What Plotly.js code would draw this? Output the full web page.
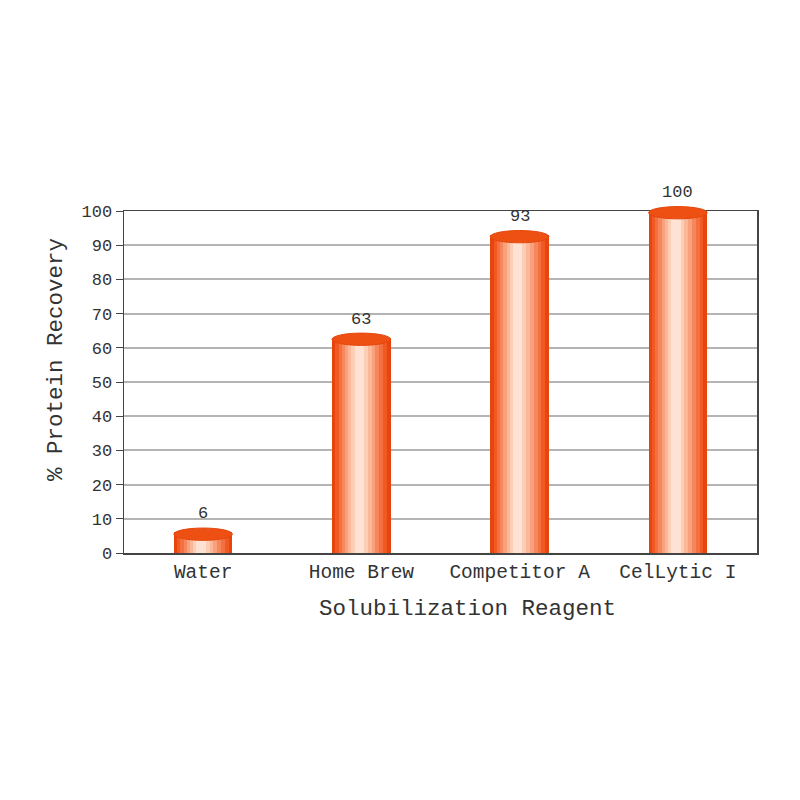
<!DOCTYPE html>
<html>
<head>
<meta charset="utf-8">
<script src="https://cdn.plot.ly/plotly-3.0.1.min.js"></script>
<style>
  html, body { margin: 0; padding: 0; background: #ffffff; }
  #chart { width: 800px; height: 800px; }
</style>
</head>
<body>
<div id="chart"></div>
<script>
// Data
const reagents = ['Water', 'Home Brew', 'Competitor A', 'CelLytic I'];
const recovery = [6, 63, 93, 100];
const yTicks = [0, 10, 20, 30, 40, 50, 60, 70, 80, 90, 100];
const yMax = 100;

// Cylinder look: overlay narrower, lighter bars on top of each other
const barWidth = 0.37;
const shadeScale = [1, 0.88, 0.76, 0.64, 0.52, 0.4, 0.28, 0.16];
const shadeColors = ['#e8440e', '#f05a22', '#f47040', '#f6875c', '#f9a07c', '#fbb898', '#fdceb6', '#fee2d4'];

const font = '"Liberation Mono", "DejaVu Sans Mono", monospace';
const textColor = '#333333';

const traces = shadeScale.map((s, k) => {
  const w = barWidth * s;
  return {
    type: 'bar',
    x: reagents,
    y: recovery,
    width: reagents.map(() => w),
    offset: reagents.map(() => -w / 2 - 0.04 * (barWidth - w)),
    marker: { color: shadeColors[k], line: { width: 0 } },
    hoverinfo: 'skip',
    showlegend: false
  };
});

// elliptic cap of each cylinder; paper refs so the 100 cap is not clipped
const caps = recovery.map((v, i) => ({
  type: 'circle',
  xref: 'x',
  yref: 'paper',
  x0: i - barWidth / 2,
  x1: i + barWidth / 2,
  y0: (v - 2.3) / yMax,
  y1: (v + 1.3) / yMax,
  fillcolor: '#ee5014',
  line: { color: '#e4460c', width: 1 },
  layer: 'above'
}));

const labels = recovery.map((v, i) => ({
  x: reagents[i],
  y: v,
  text: String(v),
  showarrow: false,
  yanchor: 'bottom',
  yshift: 7,
  font: { family: font, size: 17, color: textColor }
}));

// axis titles sit a little off-centre in the reference, so place them as annotations
labels.push({
  xref: 'paper', yref: 'paper',
  x: 0.542, y: -0.165,
  xanchor: 'center', yanchor: 'middle',
  text: 'Solubilization Reagent',
  showarrow: false,
  font: { family: font, size: 22.5, color: textColor }
});
labels.push({
  xref: 'paper', yref: 'paper',
  x: -0.107, y: 0.565,
  xanchor: 'center', yanchor: 'middle',
  textangle: -90,
  text: '% Protein Recovery',
  showarrow: false,
  font: { family: font, size: 22.5, color: textColor }
});

const layout = {
  width: 800,
  height: 800,
  margin: { l: 124, r: 43, t: 211, b: 247 },
  paper_bgcolor: '#ffffff',
  plot_bgcolor: '#ffffff',
  barmode: 'overlay',
  bargap: 0,
  font: { family: font, color: textColor },
  xaxis: {
    type: 'category',
    range: [-0.5, 3.5],
    showline: true,
    mirror: true,
    linecolor: '#444444',
    linewidth: 1.5,
    ticks: '',
    tickfont: { family: font, size: 19.5, color: textColor },
    automargin: false
  },
  yaxis: {
    range: [0, yMax],
    tickvals: yTicks,
    ticks: 'outside',
    ticklen: 7,
    tickcolor: '#444444',
    showline: true,
    mirror: true,
    linecolor: '#444444',
    linewidth: 1.5,
    showgrid: true,
    gridcolor: '#b4b4b4',
    gridwidth: 2,
    zeroline: false,
    tickfont: { family: font, size: 17, color: textColor },
    automargin: false
  },
  shapes: caps,
  annotations: labels
};

Plotly.newPlot('chart', traces, layout, { displayModeBar: false, staticPlot: true });
</script>
</body>
</html>
